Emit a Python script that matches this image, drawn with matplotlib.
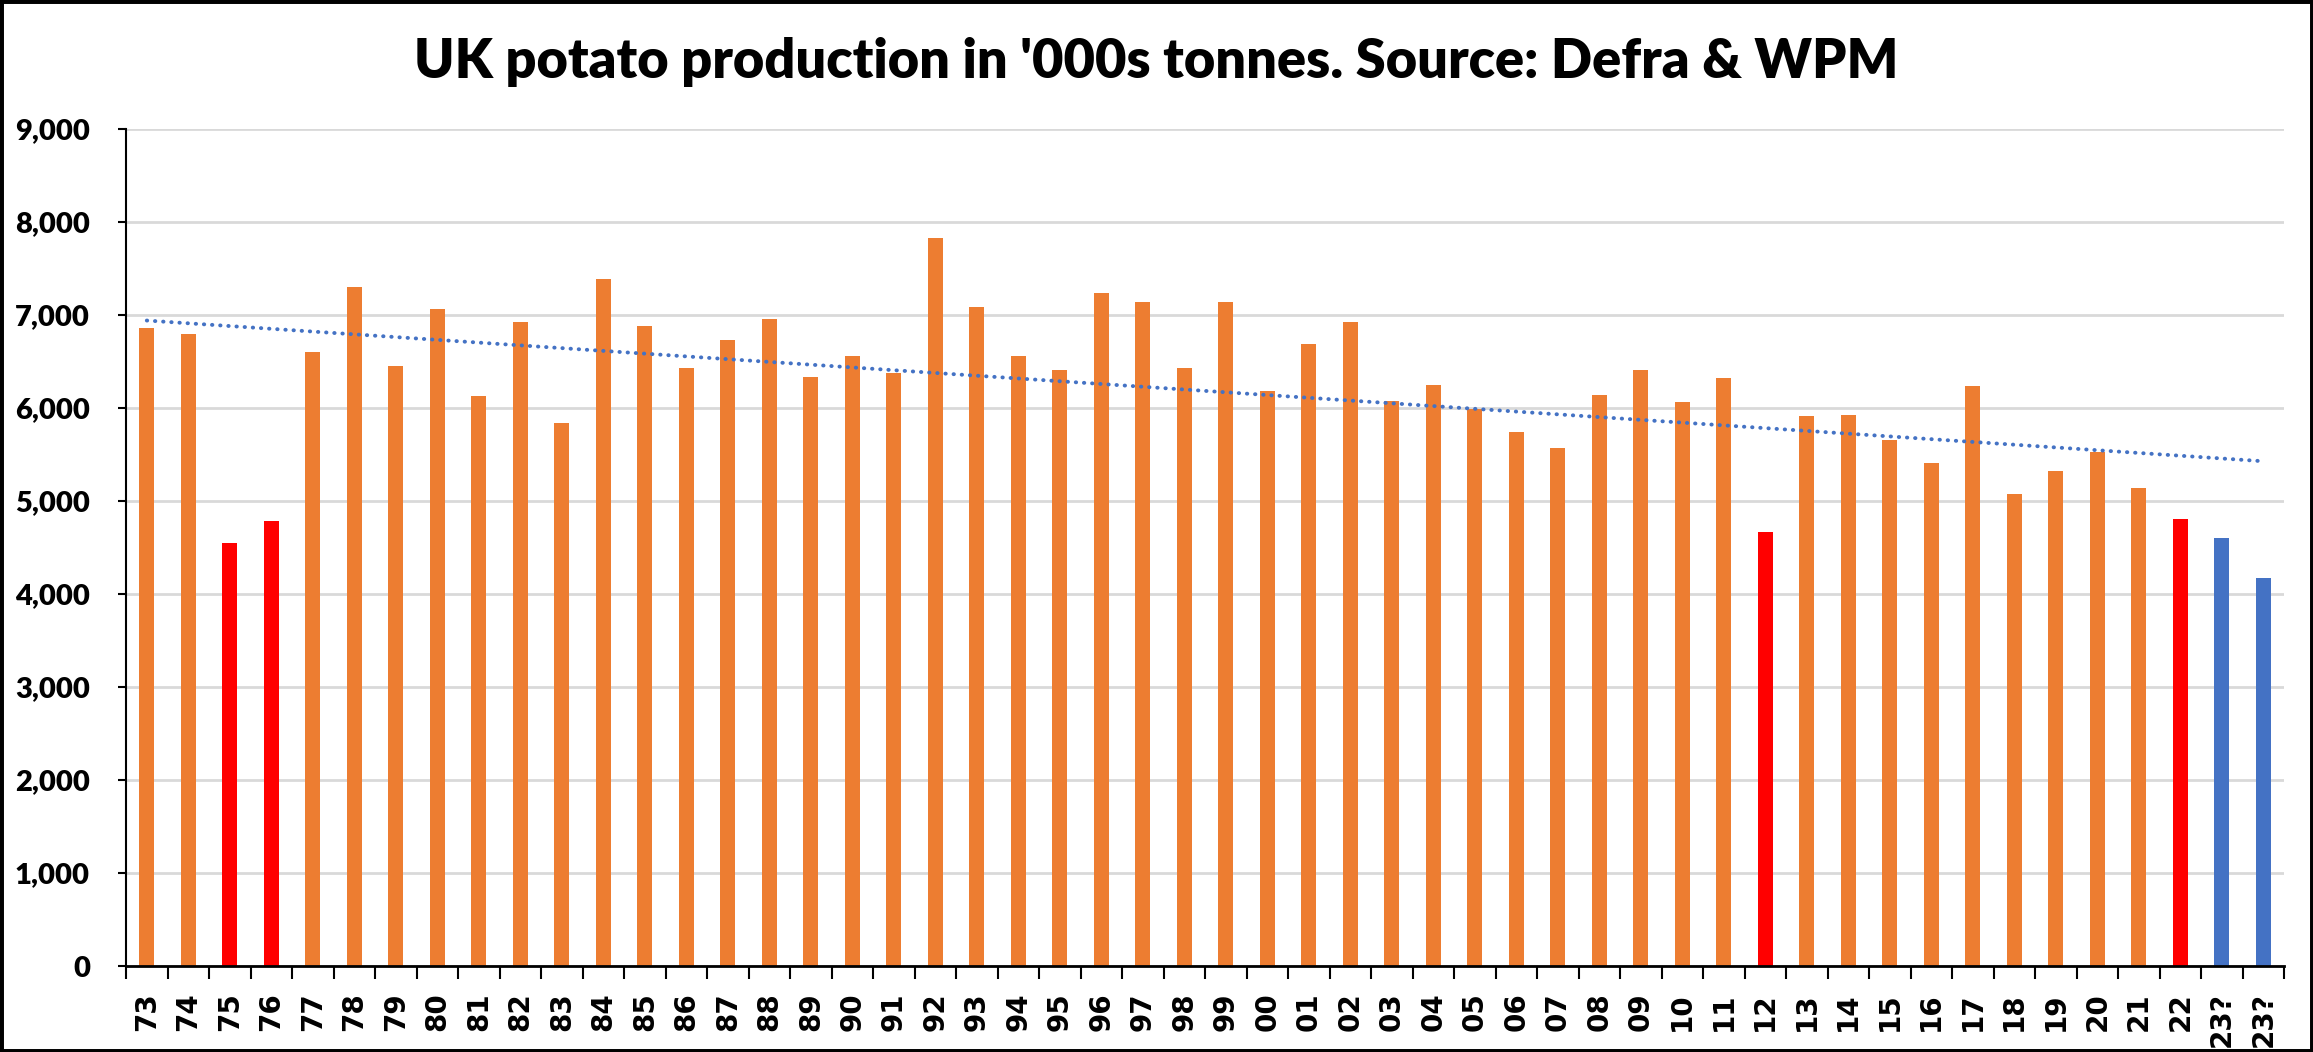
import matplotlib
matplotlib.use('Agg')
import matplotlib.pyplot as plt
import numpy as np
from matplotlib.patches import Rectangle
from matplotlib.ticker import FuncFormatter, FixedLocator

# ---- data ('000 tonnes) ----
actual_years = ['73', '74', '75', '76', '77', '78', '79', '80', '81', '82',
                '83', '84', '85', '86', '87', '88', '89', '90', '91', '92',
                '93', '94', '95', '96', '97', '98', '99', '00', '01', '02',
                '03', '04', '05', '06', '07', '08', '09', '10', '11', '12',
                '13', '14', '15', '16', '17', '18', '19', '20', '21', '22']
actual_values = [6856, 6793, 4552, 4785, 6604, 7296, 6452, 7063, 6126, 6922,
                 5833, 7389, 6878, 6426, 6726, 6952, 6333, 6556, 6374, 7822,
                 7081, 6552, 6411, 7237, 7133, 6433, 7141, 6185, 6681, 6926,
                 6070, 6248, 5985, 5737, 5570, 6137, 6404, 6063, 6319, 4670,
                 5907, 5919, 5652, 5404, 6230, 5070, 5319, 5520, 5133, 4803]
estimate_labels = ['23?', '23?']
estimate_values = [4602, 4168]
poor_years = ['75', '76', '12', '22']

ORANGE = '#ED7D31'
RED = '#FF0000'
BLUE = '#4472C4'

categories = actual_years + estimate_labels
values = actual_values + estimate_values
n = len(categories)
x = np.arange(n)

colors = ([RED if y in poor_years else ORANGE for y in actual_years]
          + [BLUE] * len(estimate_labels))

fig = plt.figure(figsize=(23.13, 10.52), dpi=100)
ax = fig.add_axes([0.0545, 0.0817, 0.9330, 0.7960])

ax.bar(x, values, width=0.36, color=colors, zorder=2)

# linear trendline over all values
coef = np.polyfit(x, values, 1)
ax.plot(x, np.polyval(coef, x), color=BLUE, lw=2.8,
        linestyle=(0, (0.1, 2.0)), dash_capstyle='round', zorder=3)

ax.set_xlim(-0.5, n - 0.5)
ax.set_ylim(0, 9000)

for s in ['top', 'right']:
    ax.spines[s].set_visible(False)
ax.spines['left'].set_color('black')
ax.spines['left'].set_linewidth(1.5)
ax.spines['bottom'].set_color('black')
ax.spines['bottom'].set_linewidth(2)

ax.set_axisbelow(True)
ax.yaxis.grid(True, color='#D9D9D9', lw=2)

ax.set_yticks(np.arange(0, 9001, 1000))
ax.yaxis.set_major_formatter(FuncFormatter(lambda v, p: f'{int(v):,}'))
ax.tick_params(axis='y', which='major', length=6, width=1.5, direction='out',
               pad=20, labelsize=21)
for lab in ax.get_yticklabels():
    lab.set_fontweight('heavy')
    lab.set_fontfamily(['Lato', 'DejaVu Sans'])

ax.set_xticks(x)
ax.set_xticklabels(categories, rotation=90, fontsize=20, fontweight='bold',
                   family='DejaVu Sans')
ax.tick_params(axis='x', which='major', length=0, pad=19)
ax.xaxis.set_minor_locator(FixedLocator(np.arange(-0.5, n, 1.0)))
ax.tick_params(axis='x', which='minor', length=9, width=1.5, direction='out')

fig.text(0.5, 1 - 62 / 1052, "UK potato production in '000s tonnes. Source: Defra & WPM",
         ha='center', va='center', fontsize=39, fontweight='heavy',
         family=['Lato', 'DejaVu Sans'])

fig.add_artist(Rectangle((0, 0), 1, 1, transform=fig.transFigure, fill=False,
                         lw=5, edgecolor='black'))

fig.savefig('out.png', dpi=100)
